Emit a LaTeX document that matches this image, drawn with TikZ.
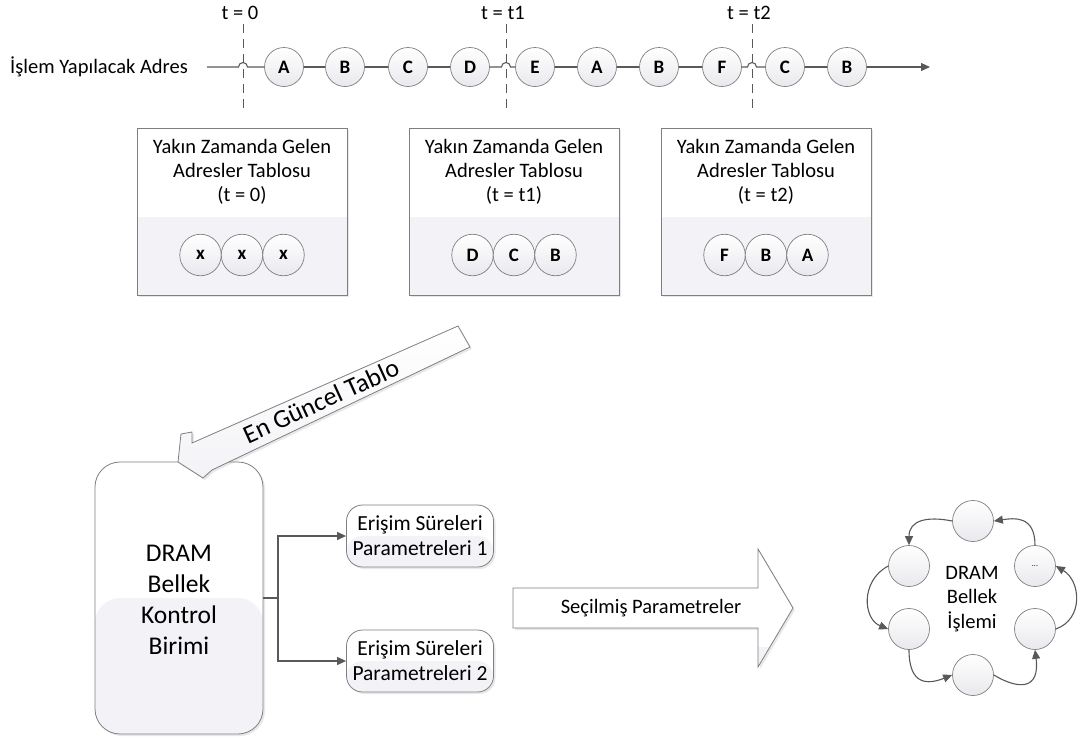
\documentclass[tikz,border=0pt]{standalone}
\usepackage{fontspec}
\setmainfont{Carlito}
\usetikzlibrary{arrows.meta,calc,shadows}

\definecolor{edge}{HTML}{7F7F7F}
\definecolor{wire}{HTML}{595959}
\definecolor{paleA}{HTML}{F3F2F6}
\definecolor{paleB}{HTML}{E9E8ED}

\tikzset{
  wire/.style={draw=wire, line width=1.1pt},
  tipped/.style={-{Triangle[length=9pt,width=8pt]}},
  cutline/.style={draw=wire, line width=0.9pt, dash pattern=on 9pt off 6pt},
  soft/.style={drop shadow={opacity=0.18, shadow xshift=2pt, shadow yshift=-2pt}},
  addr/.style={circle, draw=edge, line width=0.7pt, minimum size=39pt, inner sep=0pt,
    top color=white, bottom color=paleB, font=\fontsize{19}{22}\selectfont\bfseries},
  slot/.style={addr, minimum size=41.5pt},
  ring/.style={addr, minimum size=41pt, font=\fontsize{8}{9}\selectfont},
  txt/.style={font=\fontsize{20.5}{24}\selectfont, align=center, inner sep=0pt},
  lowerfill/.style={path picture={\fill[paleA] (path picture bounding box.south west)
      rectangle ([yshift=#1]path picture bounding box.south east);}},
  tablebox/.style={draw=edge, line width=0.8pt, fill=white, minimum width=210pt,
    minimum height=167pt, inner sep=0pt, soft, lowerfill=78pt},
  parambox/.style={draw=edge, line width=0.8pt, fill=white, rounded corners=16pt,
    minimum width=147pt, minimum height=62pt, inner sep=0pt, soft, lowerfill=31pt,
    font=\fontsize{21.5}{25}\selectfont, align=center},
}

\begin{document}
\begin{tikzpicture}[x=1pt, y=-1pt]
\useasboundingbox (0,0) rectangle (1082,740);

% ---------- timeline of incoming addresses ----------
\node[txt, anchor=east] (rowlabel) at (188,67) {İşlem Yapılacak Adres};

\coordinate (lstart) at (207,67);
\coordinate (lend) at (930,67);

\foreach \name/\x/\t in {cut0/243/{t = 0}, cut1/506/{t = t1}, cut2/752/{t = t2}} {
  \coordinate (\name top) at (\x,24);
  \coordinate (\name bot) at (\x,108);
  \node[txt] (\name lab) at (\x-3,13) {\t};
  \draw[cutline] (\name top) -- (\name bot);
}

\foreach \name/\x/\l in {qa/284/A, qb/345/B, qc/408/C, qd/470/D, qe/535/E,
                         qf/597/A, qg/659/B, qh/722/F, qi/785/C, qj/847/B} {
  \node[addr] (\name) at (\x,67) {\l};
}

% line with small jumps where it crosses the time markers
\draw[wire] (lstart) -- ($(cut0top|-lstart)+(-4.5,0)$) arc[start angle=180, end angle=0, radius=4.5pt] -- (qa);
\draw[wire] (qa) -- (qb);
\draw[wire] (qb) -- (qc);
\draw[wire] (qc) -- (qd);
\draw[wire] (qd) -- ($(cut1top|-lstart)+(-4.5,0)$) arc[start angle=180, end angle=0, radius=4.5pt] -- (qe);
\draw[wire] (qe) -- (qf);
\draw[wire] (qf) -- (qg);
\draw[wire] (qg) -- (qh);
\draw[wire] (qh) -- ($(cut2top|-lstart)+(-4.5,0)$) arc[start angle=180, end angle=0, radius=4.5pt] -- (qi);
\draw[wire] (qi) -- (qj);
\draw[wire, tipped] (qj) -- (lend);

% ---------- recent address tables ----------
\foreach \name/\x/\t/\a/\b/\c in {tabA/242/0/x/x/x, tabB/514/t1/D/C/B, tabC/766/t2/F/B/A} {
  \node[tablebox] (\name) at (\x,211.5) {};
  \node[txt] (\name title) at (\x,172) {Yakın Zamanda Gelen\\Adresler Tablosu\\(t = \t)};
  \node[slot] (\name s1) at (\x-41.5,255) {\a};
  \node[slot] (\name s2) at (\x,255) {\b};
  \node[slot] (\name s3) at (\x+41.5,255) {\c};
}

% ---------- DRAM memory controller ----------
\node[draw=edge, line width=0.8pt, fill=white, rounded corners=25pt, minimum width=168pt,
      minimum height=272pt, inner sep=0pt, soft, lowerfill=136pt] (ctrl) at (179,598) {};
\node[font=\fontsize{25.5}{31.2}\selectfont, align=center, inner sep=0pt] (ctrltext) at (179,600)
  {DRAM\\Bellek\\Kontrol\\Birimi};

% block arrow carrying the newest table
\path[draw=edge, line width=0.8pt, top color=white, bottom color=paleA, soft]
  (458,326) -- (470,347) -- (212,470) -- (203,478) -- (178,462) -- (181,434)
  -- (192,432) -- (192,443) -- cycle;
\node[font=\fontsize{26}{30}\selectfont, rotate=24.5, inner sep=0pt] (newest) at (321,401) {En Güncel Tablo};

% timing parameter sets
\node[parambox] (pbox1) at (420,536) {Erişim Süreleri\\Parametreleri 1};
\node[parambox] (pbox2) at (420,661) {Erişim Süreleri\\Parametreleri 2};
\coordinate (fork) at (278,598);
\draw[wire] (ctrl.east) -- (fork);
\draw[wire, tipped] (fork) |- (pbox1.west);
\draw[wire, tipped] (fork) |- (pbox2.west);

% selected parameters block arrow
\path[draw=edge, line width=0.8pt, fill=white, soft, lowerfill=20pt]
  (513,588) -- (758,588) -- (758,549) -- (793,608) -- (758,667) -- (758,628) -- (513,628) -- cycle;
\node[txt] (selected) at (651,608) {Seçilmiş Parametreler};

% ---------- DRAM memory operation cycle ----------
\node[ring] (rtop) at (973,521) {};
\node[ring] (rul) at (909,566) {};
\node[ring] (rur) at (1035,566) {...};
\node[ring] (rll) at (909,629) {};
\node[ring] (rlr) at (1035,629) {};
\node[ring] (rbot) at (973,675) {};
\node[txt, font=\fontsize{20.5}{24.5}\selectfont] (optext) at (972,599) {DRAM\\Bellek\\İşlemi};

\draw[wire, tipped] (rur.north) .. controls +(0,-30) and +(20,-3) .. (rtop.east);
\draw[wire, tipped] (rtop.west) .. controls +(-25,-5) and +(0,-25) .. (rul.north);
\draw[wire, tipped] (rul.west) .. controls +(-28,15) and +(-25,-10) .. (rll.west);
\draw[wire, tipped] (rll.south) .. controls +(0,35) and +(-25,10) .. (rbot.west);
\draw[wire, tipped] (rbot.east) .. controls +(25,15) and +(5,40) .. (rlr.south);
\draw[wire, tipped] (rlr.east) .. controls +(28,-10) and +(25,15) .. (rur.east);
\end{tikzpicture}
\end{document}
